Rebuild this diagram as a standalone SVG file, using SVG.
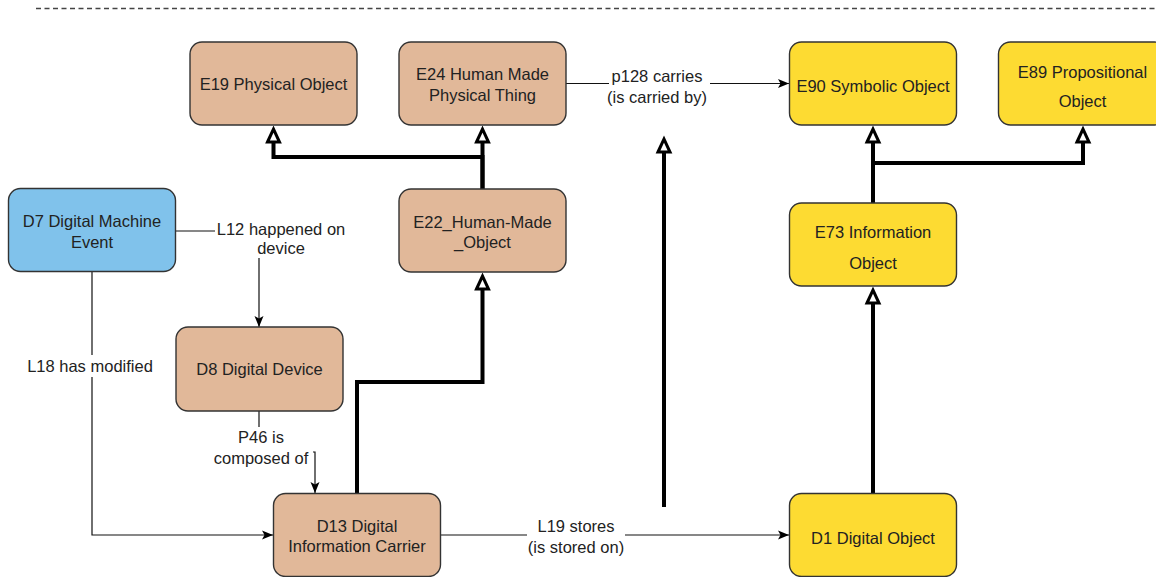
<svg xmlns="http://www.w3.org/2000/svg" width="1156" height="577" viewBox="0 0 1156 577">
<style>
.node rect{stroke:#333;stroke-width:1.4}
.tan{fill:#e1b899}
.blue{fill:#80c2eb}
.yel{fill:#fddb32}
text{font-family:"Liberation Sans",Arial,sans-serif;font-size:16.5px;fill:#222;text-anchor:middle;dominant-baseline:central}
.thin{fill:none;stroke:#111;stroke-width:1.2;marker-end:url(#classic)}
.thick{fill:none;stroke:#000;stroke-width:4;marker-end:url(#hollow)}
.lbg{fill:#fff}
</style>
<defs>
<marker id="classic" markerUnits="userSpaceOnUse" viewBox="0 -6 12 12" markerWidth="12" markerHeight="12" refX="11" refY="0" orient="auto">
<path d="M0,-4.5 L11,0 L0,4.5 L2.5,0 Z" fill="#000"/>
</marker>
<marker id="hollow" markerUnits="userSpaceOnUse" viewBox="-4 -11 24 22" markerWidth="24" markerHeight="22" refX="0" refY="0" orient="auto">
<path d="M0,-6 L13,0 L0,6 Z" fill="#fff" stroke="#000" stroke-width="3" stroke-linejoin="miter"/>
</marker>
</defs>
<rect width="1156" height="577" fill="#fff"/>
<line x1="36" y1="8.5" x2="1156" y2="8.5" stroke="#444" stroke-width="1.5" stroke-dasharray="5 3.5"/>
<g id="connectors">
<path class="thick" d="M482.5,189 V142"/>
<path class="thick" d="M482.5,189 V157 H273.5 V142"/>
<path class="thick" d="M357,493 V382 H482.5 V289"/>
<path class="thick" d="M664,507 V152"/>
<path class="thick" d="M873,493 V303"/>
<path class="thick" d="M873,203 V142"/>
<path class="thick" d="M873,203 V163 H1083 V142"/>
<path class="thin" d="M176,231 H259 V327"/>
<path class="thin" d="M92,272 V535 H273"/>
<path class="thin" d="M259,411 V452 H315 V493"/>
<path class="thin" d="M566,83.5 H789"/>
<path class="thin" d="M441,535 H789"/>
<rect class="lbg" x="215" y="218" width="131" height="40"/>
<text x="281" y="229">L12 happened on</text>
<text x="281" y="248">device</text>
<rect class="lbg" x="27" y="355" width="126" height="22"/>
<text x="90" y="366">L18 has modified</text>
<rect class="lbg" x="213" y="427" width="100" height="40"/>
<text x="261" y="437">P46 is</text>
<text x="261" y="458">composed of</text>
<rect class="lbg" x="609" y="66" width="101" height="40"/>
<text x="657" y="76">p128 carries</text>
<text x="657" y="97">(is carried by)</text>
<rect class="lbg" x="527" y="516" width="98" height="40"/>
<text x="576" y="526">L19 stores</text>
<text x="576" y="547">(is stored on)</text>
</g>
<g id="E19" class="node"><rect class="tan" x="190" y="42" width="167" height="83" rx="12"/><text x="273.5" y="83.5">E19 Physical Object</text></g>
<g id="E24" class="node"><rect class="tan" x="399" y="42" width="167" height="83" rx="12"/><text x="482.5" y="74">E24 Human Made</text><text x="482.5" y="95">Physical Thing</text></g>
<g id="E90" class="node"><rect class="yel" x="789.5" y="42" width="167" height="83" rx="12"/><text x="873" y="86">E90 Symbolic Object</text></g>
<g id="E89" class="node"><rect class="yel" x="998.5" y="42" width="168" height="83" rx="12"/><text x="1082.5" y="71.5">E89 Propositional</text><text x="1082.5" y="101">Object</text></g>
<g id="D7" class="node"><rect class="blue" x="8.5" y="188.5" width="167" height="83" rx="12"/><text x="92" y="221">D7 Digital Machine</text><text x="92" y="242">Event</text></g>
<g id="E22" class="node"><rect class="tan" x="399" y="189" width="167" height="83" rx="12"/><text x="482.5" y="221.5">E22_Human-Made</text><text x="482.5" y="241.5">_Object</text></g>
<g id="E73" class="node"><rect class="yel" x="789.5" y="203" width="167" height="83" rx="12"/><text x="873" y="232">E73 Information</text><text x="873" y="263">Object</text></g>
<g id="D8" class="node"><rect class="tan" x="176" y="327" width="167" height="84" rx="12"/><text x="259.5" y="368.5">D8 Digital Device</text></g>
<g id="D13" class="node"><rect class="tan" x="273.5" y="493.5" width="167" height="83" rx="12"/><text x="357" y="526">D13 Digital</text><text x="357" y="546">Information Carrier</text></g>
<g id="D1" class="node"><rect class="yel" x="789.5" y="493.5" width="167" height="83" rx="12"/><text x="873" y="538">D1 Digital Object</text></g>
</svg>
